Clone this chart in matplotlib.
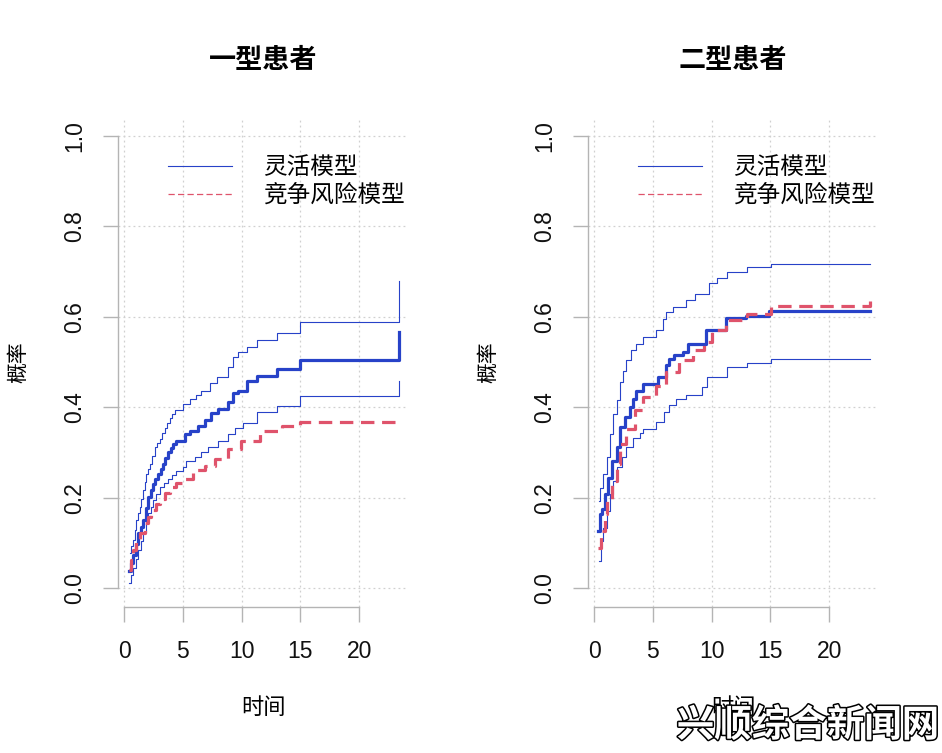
import matplotlib
matplotlib.use("Agg")
import matplotlib.pyplot as plt
from matplotlib.lines import Line2D
import matplotlib.patheffects as pe

# ---------------- data ----------------
titles = ["一型患者", "二型患者"]
legend_labels = ["灵活模型", "竞争风险模型"]
xlabel = "时间"
ylabel = "概率"
xticks = [0, 5, 10, 15, 20]
yticks = [0.0, 0.2, 0.4, 0.6, 0.8, 1.0]
ytick_labels = ["0.0", "0.2", "0.4", "0.6", "0.8", "1.0"]

# Panel 1 (一型患者)
p1_est_t = [0.40, 0.58, 0.76, 0.98, 1.19, 1.40, 1.61, 1.82, 2.04, 2.25, 2.46, 2.67, 2.89, 3.10, 3.31, 3.52,
            3.74, 3.95, 4.16, 4.45, 5.16, 5.58, 6.29, 6.86, 7.42, 7.99, 8.84, 9.26, 9.69, 10.44, 11.29,
            12.99, 14.98, 23.40]
p1_est_y = [0.037, 0.055, 0.073, 0.097, 0.121, 0.136, 0.150, 0.176, 0.201, 0.216, 0.231, 0.242, 0.253, 0.264,
            0.275, 0.288, 0.300, 0.310, 0.319, 0.326, 0.341, 0.348, 0.359, 0.371, 0.388, 0.396, 0.412, 0.432,
            0.437, 0.459, 0.469, 0.485, 0.505, 0.567]
p1_up_t = [0.48, 0.62, 0.76, 0.90, 1.05, 1.19, 1.33, 1.47, 1.61, 1.76, 1.90, 2.04, 2.18, 2.40, 2.61, 2.82,
           3.03, 3.25, 3.46, 3.67, 3.88, 4.10, 4.31, 5.01, 5.58, 6.15, 6.57, 7.28, 7.90, 8.88, 9.30,
           9.73, 10.44, 11.29, 12.99, 14.98, 23.40]
p1_up_y = [0.077, 0.092, 0.106, 0.128, 0.150, 0.165, 0.179, 0.198, 0.216, 0.235, 0.253, 0.264, 0.275, 0.293,
           0.311, 0.321, 0.330, 0.343, 0.355, 0.366, 0.377, 0.385, 0.393, 0.407, 0.418, 0.427, 0.437, 0.454,
           0.468, 0.490, 0.512, 0.522, 0.534, 0.549, 0.564, 0.588, 0.679]
p1_lo_t = [0.40, 0.58, 0.76, 0.98, 1.19, 1.40, 1.61, 1.82, 2.04, 2.25, 2.46, 2.75, 3.03, 3.38, 3.74, 4.10,
           4.45, 5.01, 5.30, 6.00, 6.57, 7.14, 7.99, 8.84, 9.40, 10.10, 11.29, 12.99, 14.98, 23.40]
p1_lo_y = [0.011, 0.028, 0.044, 0.064, 0.084, 0.103, 0.121, 0.143, 0.165, 0.180, 0.194, 0.208, 0.223, 0.232,
           0.242, 0.250, 0.259, 0.267, 0.282, 0.289, 0.300, 0.311, 0.325, 0.341, 0.355, 0.366, 0.390, 0.403,
           0.424, 0.457]
p1_cr_t = [0.40, 0.58, 0.76, 1.05, 1.33, 1.76, 2.04, 2.32, 2.68, 3.03, 3.45, 3.88, 4.45, 5.01, 5.86, 6.86,
           7.71, 8.84, 9.97, 11.57, 13.42, 14.98, 23.40]
p1_cr_y = [0.040, 0.062, 0.084, 0.103, 0.121, 0.143, 0.158, 0.172, 0.185, 0.198, 0.211, 0.223, 0.233, 0.242,
           0.262, 0.271, 0.286, 0.308, 0.326, 0.347, 0.358, 0.367, 0.370]

# Panel 2 (二型患者)
p2_est_t = [0.37, 0.51, 0.65, 0.93, 1.21, 1.49, 1.91, 2.19, 2.61, 3.03, 3.31, 3.60, 4.16, 5.42, 6.12, 6.40,
            6.83, 7.53, 7.95, 9.49, 11.18, 12.89, 14.88, 23.50]
p2_est_y = [0.126, 0.163, 0.174, 0.207, 0.244, 0.281, 0.311, 0.356, 0.378, 0.400, 0.419, 0.437, 0.452, 0.467,
            0.493, 0.507, 0.515, 0.522, 0.541, 0.570, 0.597, 0.602, 0.612, 0.612]
p2_up_t = [0.42, 0.51, 0.79, 1.07, 1.35, 1.63, 1.91, 2.19, 2.47, 2.75, 3.17, 3.60, 4.16, 5.28, 5.84, 6.12,
           6.69, 7.81, 8.60, 9.76, 10.47, 11.32, 13.03, 15.02, 23.50]
p2_up_y = [0.193, 0.222, 0.252, 0.289, 0.341, 0.385, 0.415, 0.456, 0.481, 0.504, 0.526, 0.541, 0.556, 0.570,
           0.596, 0.611, 0.622, 0.637, 0.650, 0.676, 0.685, 0.700, 0.711, 0.718, 0.718]
p2_lo_t = [0.42, 0.56, 0.79, 1.07, 1.35, 1.63, 1.91, 2.33, 2.75, 3.31, 3.88, 4.16, 5.28, 5.98, 6.40, 6.97,
           7.81, 9.21, 9.64, 11.32, 13.03, 15.02, 23.50]
p2_lo_y = [0.059, 0.104, 0.133, 0.170, 0.207, 0.237, 0.267, 0.289, 0.311, 0.333, 0.344, 0.352, 0.367, 0.389,
           0.404, 0.419, 0.426, 0.444, 0.467, 0.490, 0.497, 0.506, 0.506]
p2_cr_t = [0.37, 0.56, 0.93, 1.12, 1.49, 1.91, 2.19, 2.75, 3.46, 4.16, 5.28, 6.12, 7.25, 8.37, 9.35, 10.06,
           11.18, 13.03, 15.02, 23.50]
p2_cr_y = [0.089, 0.126, 0.163, 0.193, 0.237, 0.274, 0.319, 0.352, 0.393, 0.422, 0.448, 0.478, 0.504, 0.526,
           0.544, 0.570, 0.594, 0.606, 0.624, 0.635]

panels = [
    (p1_est_t, p1_est_y, p1_up_t, p1_up_y, p1_lo_t, p1_lo_y, p1_cr_t, p1_cr_y),
    (p2_est_t, p2_est_y, p2_up_t, p2_up_y, p2_lo_t, p2_lo_y, p2_cr_t, p2_cr_y),
]

# ---------------- style ----------------
BLUE = "#2742C8"
RED = "#DF536B"
AXCOL = "#B4B4B4"
GRIDCOL = "#D0D0D0"
CJK = ["Noto Sans CJK SC", "DejaVu Sans"]
NUM = ["Liberation Sans", "DejaVu Sans"]

W, H = 942, 753
fig = plt.figure(figsize=(W / 100, H / 100), dpi=100)

ax_left_px = [118, 588]
ax_w_px = 290
ax_top_px, ax_bot_px = 118, 607

for i, (et, ey, ut, uy, lt, ly, ct, cy) in enumerate(panels):
    ax = fig.add_axes([ax_left_px[i] / W, 1 - ax_bot_px / H, ax_w_px / W, (ax_bot_px - ax_top_px) / H])
    ax.set_xlim(-0.52, 24.15)
    ax.set_ylim(-0.042, 1.04)

    ax.grid(True, color=GRIDCOL, linestyle=(0, (1.5, 2.5)), linewidth=0.9)
    ax.set_axisbelow(True)

    ax.plot(ut, uy, drawstyle="steps-post", color=BLUE, lw=0.8, zorder=3)
    ax.plot(lt, ly, drawstyle="steps-post", color=BLUE, lw=0.8, zorder=3)
    ax.plot(et, ey, drawstyle="steps-post", color=BLUE, lw=2.3, zorder=4)
    ax.plot(ct, cy, drawstyle="steps-post", color=RED, lw=2.3, dashes=(4.2, 2.4), zorder=5)

    for s in ["top", "right"]:
        ax.spines[s].set_visible(False)
    for s in ["left", "bottom"]:
        ax.spines[s].set_color(AXCOL)
        ax.spines[s].set_linewidth(1.0)
    ax.spines["left"].set_bounds(0, 1)
    ax.spines["bottom"].set_bounds(0, 20)

    ax.set_xticks(xticks)
    ax.set_xticklabels([str(v) for v in xticks], fontfamily=NUM, fontsize=16.5)
    ax.set_yticks(yticks)
    ax.set_yticklabels(ytick_labels, fontfamily=NUM, fontsize=16.5, rotation=90, va="center")
    ax.tick_params(axis="both", which="both", color=AXCOL, length=10.8, width=1.0, labelcolor="#111111")
    ax.tick_params(axis="x", pad=13)
    ax.tick_params(axis="y", pad=12)

    ax.set_xlabel(xlabel, fontfamily=CJK, fontsize=16)
    ax.xaxis.set_label_coords(0.5, (ax_bot_px - 707) / (ax_bot_px - ax_top_px))
    ax.xaxis.label.set_va("center")
    ax.set_ylabel(ylabel, fontfamily=CJK, fontsize=15)
    ax.yaxis.set_label_coords((18 - 118) / ax_w_px, 0.5)
    ax.yaxis.label.set_va("center")

    ax.text(0.5, (ax_bot_px - 60) / (ax_bot_px - ax_top_px), titles[i], transform=ax.transAxes,
            ha="center", va="center", fontfamily=CJK, fontsize=19.5, fontweight="bold")

    handles = [Line2D([], [], color=BLUE, lw=0.8),
               Line2D([], [], color=RED, lw=0.9, dashes=(5.0, 2.6))]
    ax.legend(handles, legend_labels, loc="upper left", bbox_to_anchor=(0.172, 0.922),
              frameon=False, borderaxespad=0, borderpad=0, handlelength=2.7, handletextpad=1.35,
              labelspacing=0.2, prop={"family": CJK, "size": 17})

wm = fig.text(808 / W, 1 - 725 / H, "兴顺综合新闻网", ha="center", va="center",
              fontfamily=CJK, fontsize=27, fontweight="bold", color="white", zorder=10)
wm.set_path_effects([pe.Stroke(linewidth=2.2, foreground="black"), pe.Normal()])

fig.savefig("out.png", dpi=100, facecolor="white")
